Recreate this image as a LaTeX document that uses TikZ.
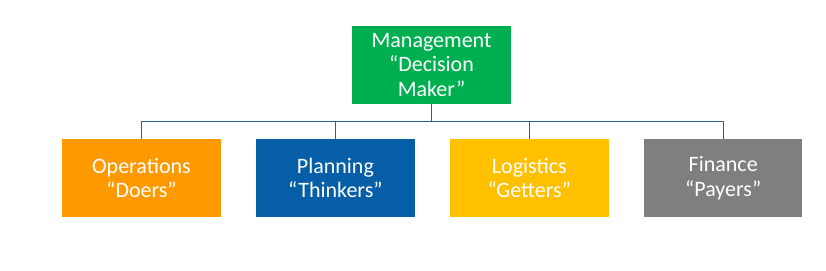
\documentclass[tikz,border=0pt]{standalone}
\usepackage{fontspec}
\setmainfont{Carlito}
\usetikzlibrary{positioning,calc}
\definecolor{mgmtgreen}{HTML}{00B050}
\definecolor{opsorange}{HTML}{FF9900}
\definecolor{planblue}{HTML}{065FA6}
\definecolor{loggold}{HTML}{FFC000}
\definecolor{fingray}{HTML}{7F7F7F}
\definecolor{linkblue}{HTML}{2F5E96}

\begin{document}
\begin{tikzpicture}[x=1pt,y=-1pt,node distance=35pt]
    \tikzstyle{unit}=[draw=none,text=white,minimum width=158.5pt,minimum height=78pt,inner sep=0pt,
        font=\fontsize{22}{24.5}\selectfont,align=center]
    \tikzstyle{link}=[draw=linkblue,line width=1.3pt]
    \useasboundingbox (0,0) rectangle (826,270);
    \node[unit,fill=mgmtgreen,minimum width=159pt] (mgmt) at (431.5,65) {Management\\“Decision\\Maker”};
    \node[unit,fill=opsorange] (ops) at (141.5,178) {Operations\\“Doers”};
    \node[unit,fill=planblue,right=of ops] (plan) {Planning\\“Thinkers”};
    \node[unit,fill=loggold,right=of plan] (log) {Logistics\\“Getters”};
    \node[unit,fill=fingray,right=of log] (fin) {Finance\\“Payers”};
    \draw[link] (mgmt.south) -- ++(0,17.5) coordinate (bus);
    \draw[link] (ops.north) |- (bus) -| (fin.north);
    \draw[link] (plan.north) -- (plan.north |- bus);
    \draw[link] (log.north) -- (log.north |- bus);
\end{tikzpicture}
\end{document}
